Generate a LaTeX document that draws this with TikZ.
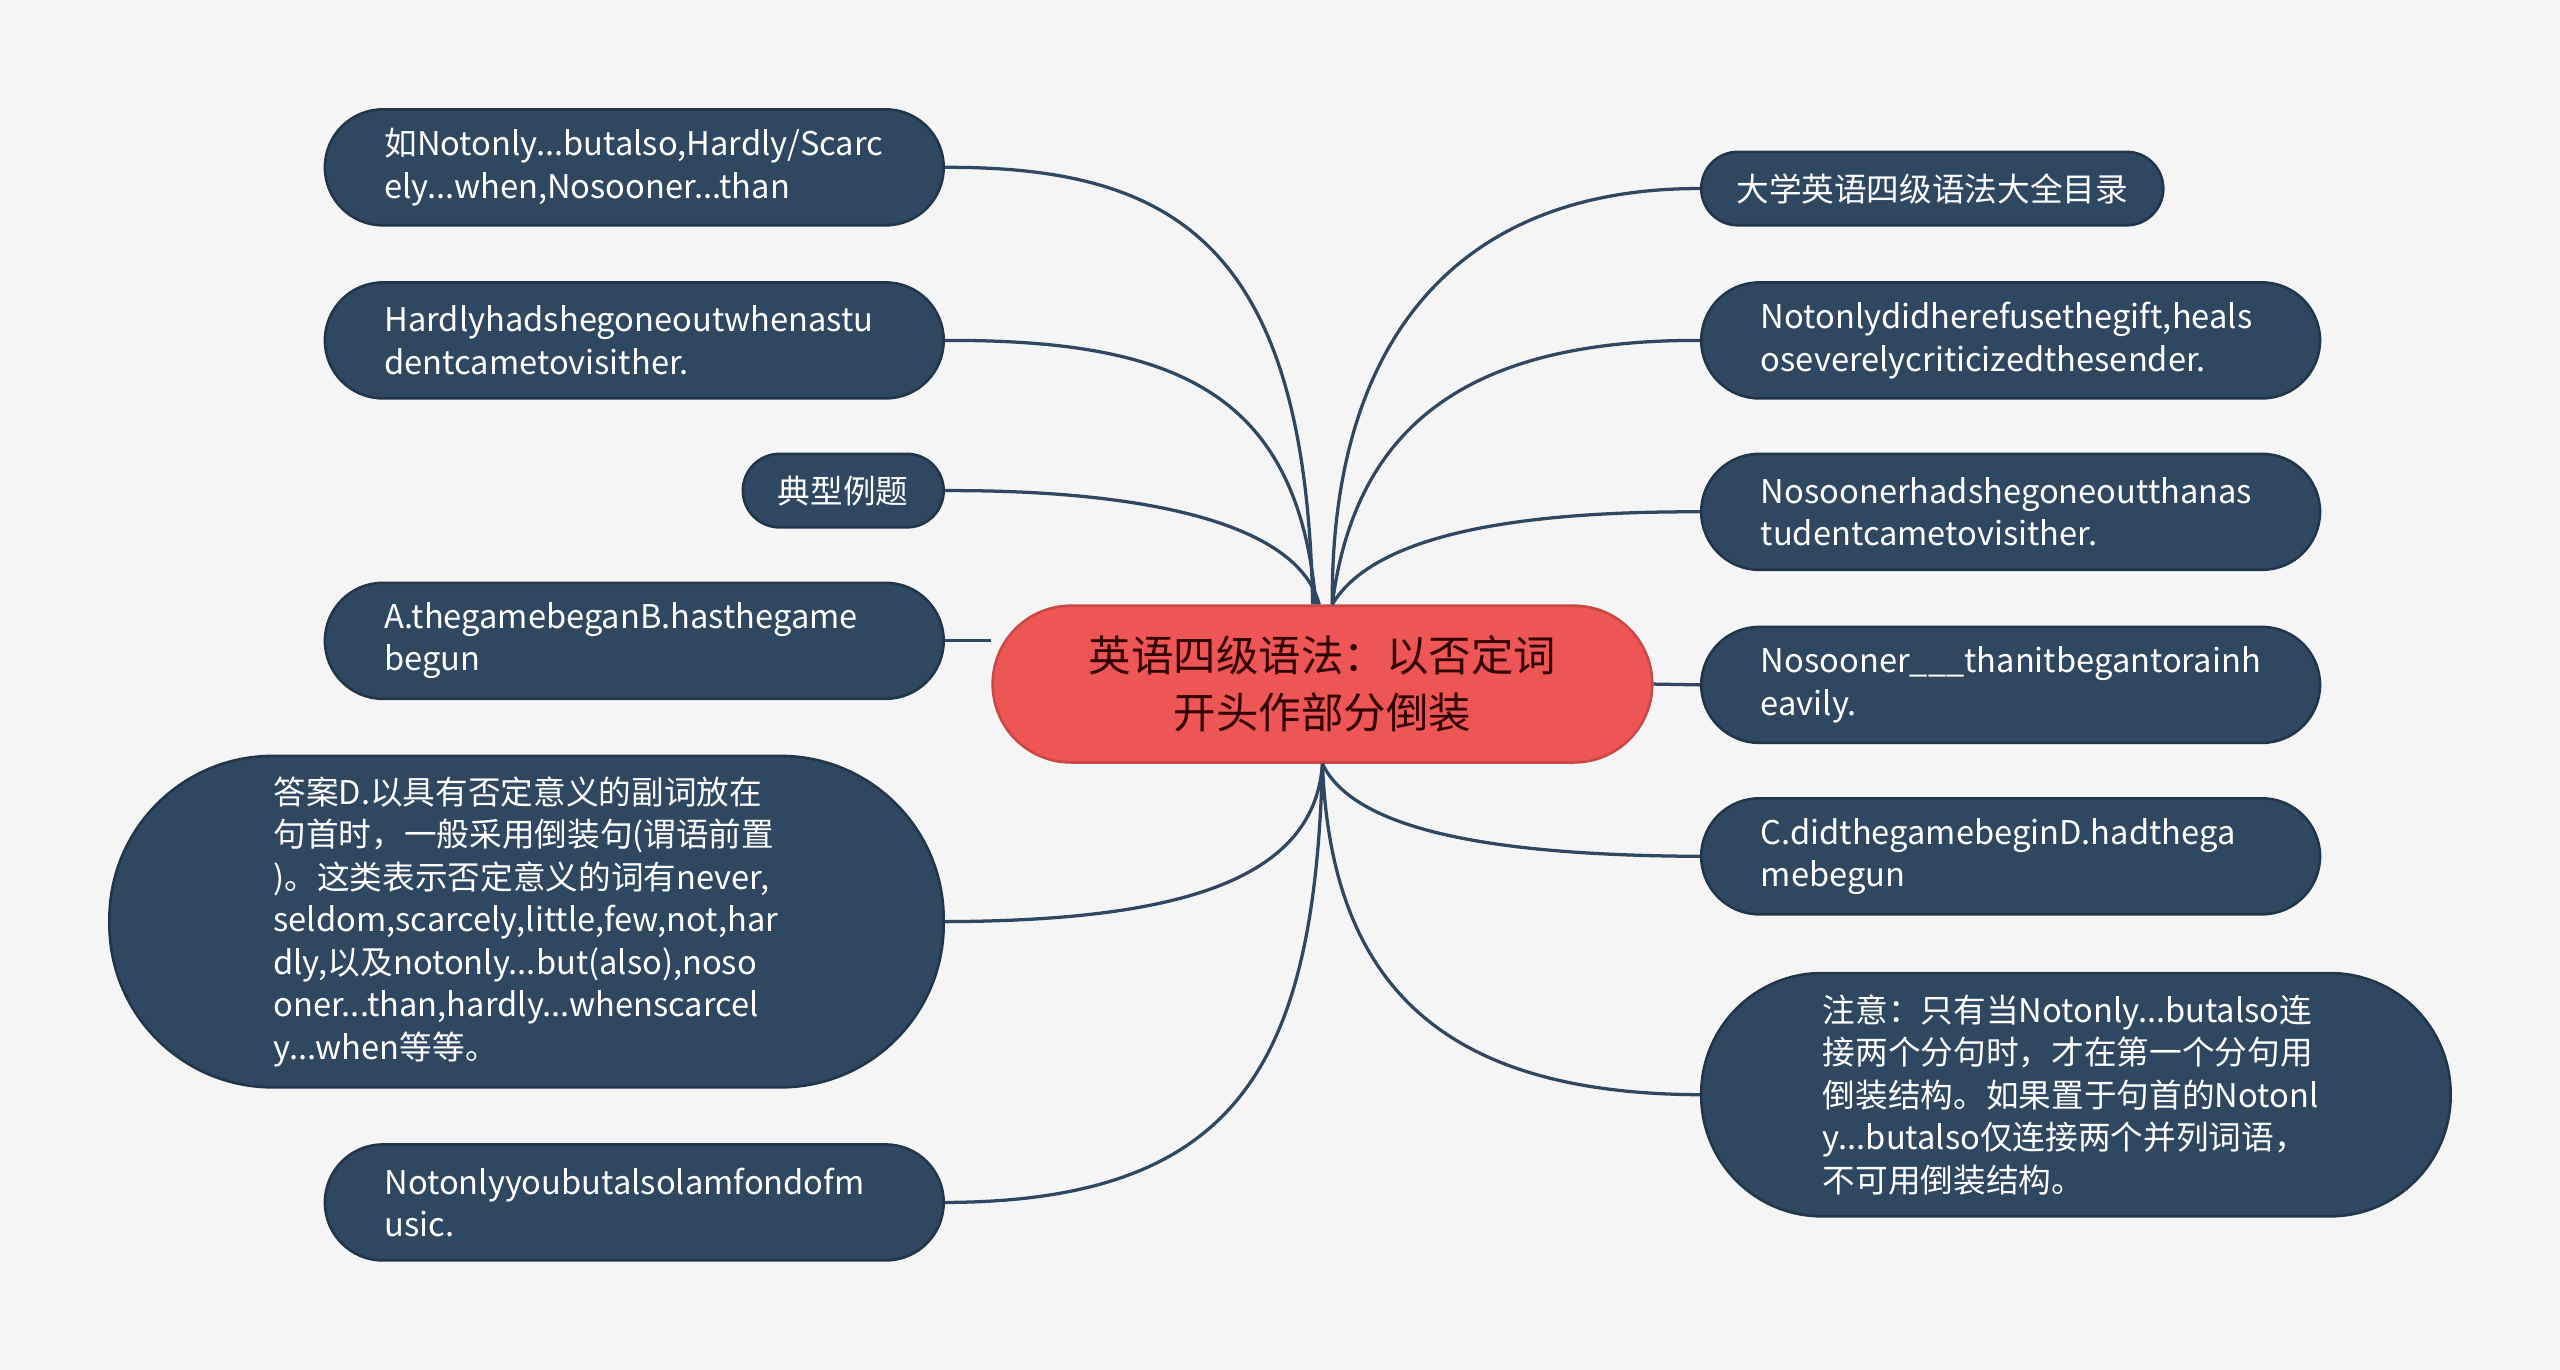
\documentclass[tikz,border=0pt]{standalone}
\usepackage{fontspec}
\setmainfont{Noto Sans CJK SC}
\begin{document}
\begin{tikzpicture}[x=0.5pt,y=-0.5pt,
 box/.style={fill=nodeblue,draw=nodeedge,line width=0.8pt,text=white,align=left,font=\fontsize{10}{13}\selectfont,inner sep=0pt},
 link/.style={draw=nodeblue,line width=1pt}]
\definecolor{nodeblue}{HTML}{2F4760}
\definecolor{nodeedge}{HTML}{22364A}
\definecolor{bg}{HTML}{F5F5F5}
\definecolor{cred}{HTML}{EE5555}
\fill[bg] (0,0) rectangle (1568,839);
\useasboundingbox (0,0) rectangle (1568,839);
% center
\node[fill=cred,draw=cred!85!black,line width=0.8pt,rounded corners=24pt,minimum width=202pt,minimum height=48pt,text=black!80!red,align=center,font=\fontsize{13}{17.5}\selectfont,inner sep=0pt] (c) at (810,419) {英语四级语法：以否定词\\开头作部分倒装};
% left
\node[box,rounded corners=17.75pt,minimum width=189.5pt,minimum height=35.5pt,text width=153pt] (l1) at (388.5,102.5) {如Notonly...butalso,Hardly/Scarc\\ely...when,Nosooner...than};
\node[box,rounded corners=17.75pt,minimum width=189.5pt,minimum height=35.5pt,text width=153pt] (l2) at (388.5,208.5) {Hardlyhadshegoneoutwhenastu\\dentcametovisither.};
\node[box,rounded corners=11.25pt,minimum width=61.5pt,minimum height=22.5pt,align=center] (l3) at (516.5,300.5) {典型例题};
\node[box,rounded corners=17.75pt,minimum width=189.5pt,minimum height=35.5pt,text width=153pt] (l4) at (388.5,392.5) {A.thegamebeganB.hasthegame\\begun};
\node[box,rounded corners=50pt,minimum width=255.5pt,minimum height=101.5pt,text width=155pt] (l5) at (322.5,564.5) {答案D.以具有否定意义的副词放在\\句首时，一般采用倒装句(谓语前置\\)。这类表示否定意义的词有never,\\seldom,scarcely,little,few,not,har\\dly,以及notonly...but(also),noso\\oner...than,hardly...whenscarcel\\y...when等等。};
\node[box,rounded corners=17.75pt,minimum width=189.5pt,minimum height=35.5pt,text width=153pt] (l6) at (388.5,736.5) {Notonlyyoubutalsolamfondofm\\usic.};
% right
\node[box,rounded corners=11.25pt,minimum width=141.5pt,minimum height=22.5pt,align=center] (r1) at (1183.5,115.5) {大学英语四级语法大全目录};
\node[box,rounded corners=17.75pt,minimum width=189.5pt,minimum height=35.5pt,text width=153pt] (r2) at (1231.5,208.5) {Notonlydidherefusethegift,heals\\oseverelycriticizedthesender.};
\node[box,rounded corners=17.75pt,minimum width=189.5pt,minimum height=35.5pt,text width=153pt] (r3) at (1231.5,313.5) {Nosoonerhadshegoneoutthanas\\tudentcametovisither.};
\node[box,rounded corners=17.75pt,minimum width=189.5pt,minimum height=35.5pt,text width=153pt] (r4) at (1231.5,419.5) {Nosooner\_\_\_thanitbegantorainh\\eavily.};
\node[box,rounded corners=17.75pt,minimum width=189.5pt,minimum height=35.5pt,text width=153pt] (r5) at (1231.5,524.5) {C.didthegamebeginD.hadthega\\mebegun};
\node[box,rounded corners=37pt,minimum width=229.5pt,minimum height=74.5pt,text width=155pt] (r6) at (1271.5,670.5) {注意：只有当Notonly...butalso连\\接两个分句时，才在第一个分句用\\倒装结构。如果置于句首的Notonl\\y...butalso仅连接两个并列词语，\\不可用倒装结构。};
% links
\draw[link] ([xshift=-3pt]c.north) .. controls (800,150) and (720,102) .. (l1.east);
\draw[link] ([xshift=-2pt]c.north) .. controls (795,240) and (720,208) .. (l2.east);
\draw[link] ([xshift=-1pt]c.north) .. controls (795,320) and (700,300) .. (l3.east);
\draw[link] (l4.east) -- (l4.east -| c.west);
\draw[link] (c.south) .. controls (805,540) and (720,564) .. (l5.east);
\draw[link] (c.south) .. controls (805,650) and (760,736) .. (l6.east);
\draw[link] ([xshift=3pt]c.north) .. controls (815,200) and (900,115) .. (r1.west);
\draw[link] ([xshift=3pt]c.north) .. controls (830,260) and (900,208) .. (r2.west);
\draw[link] ([xshift=3pt]c.north) .. controls (840,330) and (920,313) .. (r3.west);
\draw[link] (c.east) -- (r4.west);
\draw[link] (c.south) .. controls (830,510) and (920,524) .. (r5.west);
\draw[link] (c.south) .. controls (815,600) and (880,670) .. (r6.west);
\end{tikzpicture}
\end{document}
